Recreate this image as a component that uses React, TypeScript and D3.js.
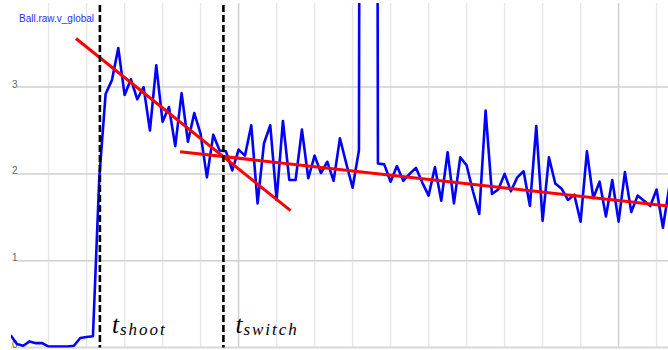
import React, { useEffect, useRef } from "react";
import * as d3 from "d3";

const width = 668;
const height = 350;

// Ball.raw.v_global, one sample per frame (60 fps) starting at t = 0.4 s
const startTime = 0.4;
const frameRate = 60;
const vGlobal = [
  0.14, 0.04, 0.02, 0.07, 0.05, 0.05, 0.01, 0.01, 0.01, 0.01,
  0.02, 0.11, 0.12, 0.13, 1.95, 2.92, 3.08, 3.45, 2.91, 3.09,
  2.86, 3.0, 2.5, 3.25, 2.6, 2.77, 2.32, 2.93, 2.37, 2.7,
  2.46, 1.96, 2.45, 2.27, 2.26, 2.04, 2.28, 2.21, 2.56, 1.66,
  2.35, 2.56, 1.7, 2.61, 1.93, 1.93, 2.51, 1.95, 2.21, 2.01,
  2.14, 1.92, 2.41, 2.12, 1.84, 2.27, 40, 40, 2.12, 2.11,
  1.91, 2.09, 1.92, 2.0, 2.07, 1.9, 1.75, 2.08, 1.69, 2.25,
  1.66, 2.19, 2.1, 1.8, 1.54, 2.73, 1.77, 1.82, 2.0, 1.8,
  1.96, 2.03, 1.63, 2.55, 1.46, 2.19, 1.89, 1.83, 1.7, 1.76,
  1.45, 2.26, 1.72, 1.91, 1.51, 1.93, 1.45, 2.02, 1.56, 1.75,
  1.69, 1.63, 1.82, 1.38, 1.85,
];

const yTicks = [0, 1, 2, 3];
const gridTimes = [0.5, 0.6, 0.7, 0.8, 0.9, 1.0, 1.1, 1.2, 1.3, 1.4, 1.5, 1.6, 1.7, 1.8, 1.9, 2.0, 2.1];
const majorTimes = [1.0, 2.0];

// fitted lines [time, value]
const fitShoot: [number, number][] = [[0.572, 3.56], [1.137, 1.576]];
const fitSwitch: [number, number][] = [[0.846, 2.256], [2.13, 1.63]];

const markerTimes = [0.635, 0.96];
const markerLabels = ["shoot", "switch"];

const App = () => {
  const ref = useRef<SVGSVGElement>(null);

  useEffect(() => {
    const svg = d3.select(ref.current);
    svg.selectAll("*").remove();

    const x = d3.scaleLinear().domain([1, 2]).range([238.6, 618.6]);
    const y = d3.scaleLinear().domain([0, 3]).range([347.5, 87.1]);
    const left = 11;
    const top = 3;
    const bottom = y(0);

    svg
      .append("defs")
      .append("clipPath")
      .attr("id", "plot-clip")
      .append("rect")
      .attr("x", left)
      .attr("y", top)
      .attr("width", width - left)
      .attr("height", bottom - top);

    // vertical grid
    svg
      .append("g")
      .selectAll("line")
      .data(gridTimes)
      .enter()
      .append("line")
      .attr("x1", (d) => x(d))
      .attr("x2", (d) => x(d))
      .attr("y1", top)
      .attr("y2", bottom)
      .attr("stroke", (d) => (majorTimes.some((m) => Math.abs(m - d) < 1e-6) ? "#d0d0d0" : "#e8e8e8"))
      .attr("stroke-width", 1.5);

    // horizontal grid
    svg
      .append("g")
      .selectAll("line")
      .data(yTicks)
      .enter()
      .append("line")
      .attr("x1", (d) => (d === 0 ? left : 17))
      .attr("x2", width)
      .attr("y1", (d) => y(d))
      .attr("y2", (d) => y(d))
      .attr("stroke", (d) => (d === 0 ? "#d8d8d8" : "#d0d0d0"))
      .attr("stroke-width", (d) => (d === 0 ? 2 : 1.5));

    svg
      .append("g")
      .selectAll("text")
      .data(yTicks)
      .enter()
      .append("text")
      .attr("x", 12)
      .attr("y", (d) => y(d) + 0.5)
      .text((d) => d)
      .style("font-family", "'Liberation Sans', Arial, sans-serif")
      .style("font-size", "10px")
      .style("fill", "#666");

    // series
    const line = d3
      .line<number>()
      .x((d, i) => x(startTime + i / frameRate))
      .y((d) => y(d));

    svg
      .append("path")
      .datum(vGlobal)
      .attr("clip-path", "url(#plot-clip)")
      .attr("d", line)
      .attr("fill", "none")
      .attr("stroke", "#0000ff")
      .attr("stroke-width", 2.6)
      .attr("stroke-linejoin", "round");

    // fits
    const fitLine = d3
      .line<[number, number]>()
      .x((d) => x(d[0]))
      .y((d) => y(d[1]));

    svg
      .append("g")
      .attr("clip-path", "url(#plot-clip)")
      .selectAll("path")
      .data([fitShoot, fitSwitch])
      .enter()
      .append("path")
      .attr("d", (d) => fitLine(d))
      .attr("fill", "none")
      .attr("stroke", "#ff0000")
      .attr("stroke-width", 3);

    // markers
    const markers = svg
      .append("g")
      .selectAll("g")
      .data(markerTimes)
      .enter()
      .append("g");

    markers
      .append("line")
      .attr("x1", (d) => x(d))
      .attr("x2", (d) => x(d))
      .attr("y1", top + 2)
      .attr("y2", bottom)
      .attr("stroke", "#000")
      .attr("stroke-width", 2.6)
      .attr("stroke-dasharray", "7,3");

    markers
      .append("text")
      .attr("x", (d) => x(d) + 12)
      .attr("y", 333)
      .text("t")
      .style("font-family", "'Liberation Serif', 'Times New Roman', serif")
      .style("font-style", "italic")
      .style("font-size", "25px")
      .style("fill", "#000");

    markers
      .append("text")
      .attr("x", (d) => x(d) + 20)
      .attr("y", 335)
      .text((d, i) => markerLabels[i])
      .style("font-family", "'Liberation Serif', 'Times New Roman', serif")
      .style("font-style", "italic")
      .style("font-size", "17px")
      .style("letter-spacing", "2px")
      .style("fill", "#000");

    svg
      .append("text")
      .attr("x", 19)
      .attr("y", 22)
      .text("Ball.raw.v_global")
      .style("font-family", "'Liberation Sans', Arial, sans-serif")
      .style("font-size", "10px")
      .style("fill", "#2d2dff");
  }, []);

  return (
    <svg
      ref={ref}
      width={width}
      height={height}
      style={{ position: "absolute", left: 0, top: 0, background: "#fff" }}
    />
  );
};

export default App;
